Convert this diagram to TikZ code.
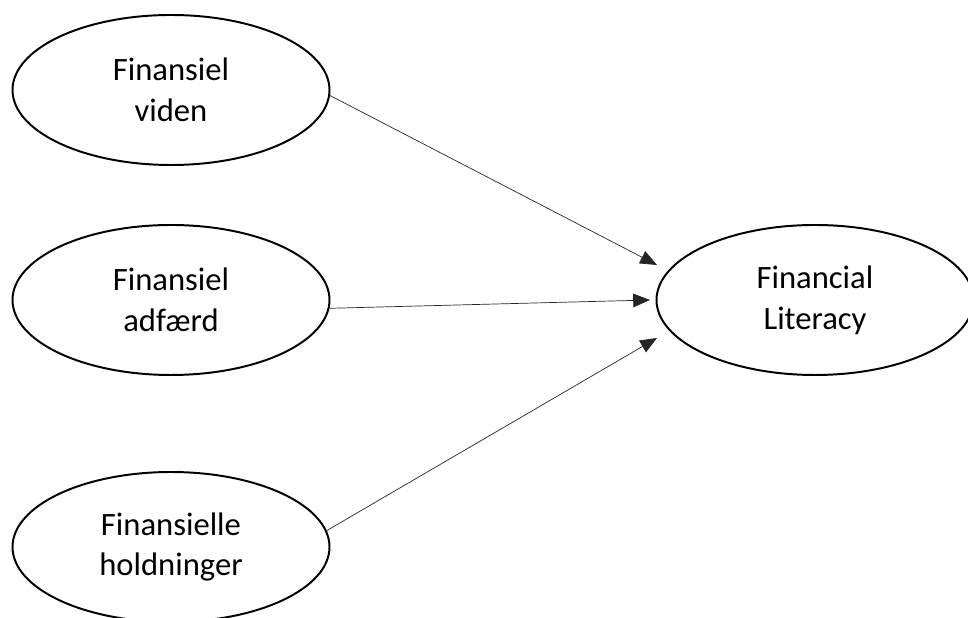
\documentclass[tikz,border=0pt]{standalone}
\usepackage{fontspec}
\setmainfont{Carlito}
\usetikzlibrary{shapes.geometric,arrows.meta}

\tikzset{
  factor/.style={ellipse,draw,line width=1.4pt,minimum width=7.925cm,minimum height=3.75cm,
    inner sep=0pt,align=center,font=\fontsize{23.2}{29}\selectfont},
  link/.style={line width=0.5pt,black!85,-{Triangle[length=0.42cm,width=0.34cm]}}
}

\begin{document}
\begin{tikzpicture}
  \useasboundingbox (0,0) rectangle (24.2,15.45);
  \node[factor] (viden) at (4.275,13.2) {Finansiel\\viden};
  \node[factor] (adfaerd) at (4.275,7.95) {Finansiel\\adfærd};
  \node[factor] (holdninger) at (4.275,1.775) {Finansielle\\holdninger};
  \node[factor] (literacy) at (20.375,7.95) {Financial\\Literacy};
  \coordinate (tipA) at ([shift={(-3.95,0.875)}]literacy.center);
  \coordinate (tipB) at ([shift={(-4.125,0)}]literacy.center);
  \coordinate (tipC) at ([shift={(-3.95,-0.95)}]literacy.center);
  \draw[link] (viden.-2) -- (tipA);
  \draw[link] (adfaerd.-3) -- (tipB);
  \draw[link] (holdninger.6) -- (tipC);
\end{tikzpicture}
\end{document}
